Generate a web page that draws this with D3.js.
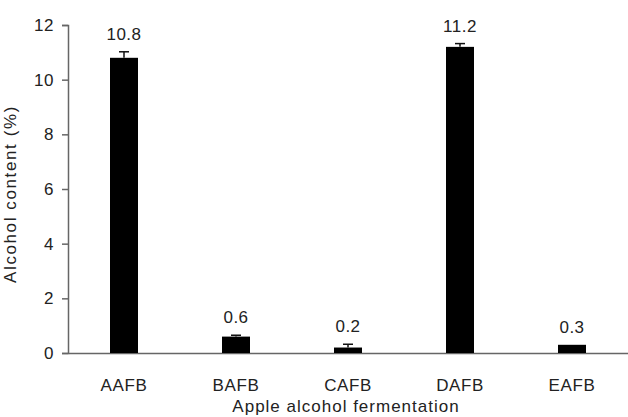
<!DOCTYPE html>
<html>
<head>
<meta charset="utf-8">
<script src="https://cdn.jsdelivr.net/npm/d3@7"></script>
<style>
  body { margin: 0; background: #fff; }
  text { font-family: "Liberation Sans", Arial, sans-serif; fill: #222; }
</style>
</head>
<body>
<svg id="chart" width="628" height="417"></svg>
<script>
// Données
const categories = ["AAFB", "BAFB", "CAFB", "DAFB", "EAFB"];
const values = [10.8, 0.6, 0.2, 11.2, 0.3];
const errors = [0.22, 0.05, 0.12, 0.12, 0];
const yTicks = [0, 2, 4, 6, 8, 10, 12];

const width = 628;
const height = 417;
const margin = {top: 25, right: 0, bottom: 64, left: 68};

const svg = d3.select("#chart");

const x = d3.scaleBand()
  .domain(categories)
  .range([margin.left, width - margin.right])
  .paddingInner(0.75)
  .paddingOuter(0.375);

const y = d3.scaleLinear()
  .domain([0, 12])
  .range([height - margin.bottom, margin.top]);

// Axe Y
const yAxis = svg.append("g")
  .attr("transform", "translate(" + margin.left + ",0)")
  .call(d3.axisLeft(y).tickValues(yTicks).tickSize(6).tickPadding(8));
yAxis.select(".domain").attr("stroke", "#666").attr("stroke-width", 1.5);
yAxis.selectAll(".tick line").attr("stroke", "#666").attr("stroke-width", 1.5);
yAxis.selectAll(".tick text")
  .attr("font-size", "17px")
  .attr("letter-spacing", "0.5px")
  .style("fill", "#222");

// Axe X (sans graduations)
const xAxis = svg.append("g")
  .attr("transform", "translate(0," + y(0) + ")")
  .call(d3.axisBottom(x).tickSize(0).tickPadding(26));
xAxis.select(".domain").attr("stroke", "#666").attr("stroke-width", 1.5);
xAxis.selectAll(".tick text")
  .attr("font-size", "17px")
  .attr("letter-spacing", "0.6px")
  .style("fill", "#222");

// Barres
const data = categories.map((c, i) => ({cat: c, value: values[i], err: errors[i]}));

svg.append("g").selectAll("rect")
  .data(data)
  .enter()
  .append("rect")
  .attr("x", d => x(d.cat))
  .attr("y", d => y(d.value))
  .attr("width", x.bandwidth())
  .attr("height", d => y(0) - y(d.value))
  .attr("fill", "#000");

// Barres d'erreur
const errG = svg.append("g").attr("stroke", "#111").attr("stroke-width", 1.5);
data.filter(d => d.err > 0).forEach(d => {
  const cx = x(d.cat) + x.bandwidth() / 2;
  errG.append("line")
    .attr("x1", cx).attr("x2", cx)
    .attr("y1", y(d.value)).attr("y2", y(d.value + d.err));
  errG.append("line")
    .attr("x1", cx - 5).attr("x2", cx + 5)
    .attr("y1", y(d.value + d.err)).attr("y2", y(d.value + d.err));
});

// Étiquettes de valeur
svg.append("g").selectAll("text")
  .data(data)
  .enter()
  .append("text")
  .attr("x", d => x(d.cat) + x.bandwidth() / 2)
  .attr("y", d => y(d.value + d.err) - 12)
  .attr("text-anchor", "middle")
  .attr("font-size", "17px")
  .attr("letter-spacing", "0.5px")
  .text(d => d.value.toFixed(1));

// Titres des axes
svg.append("text")
  .attr("x", 346)
  .attr("y", 412)
  .attr("text-anchor", "middle")
  .attr("font-size", "17px")
  .attr("letter-spacing", "1px")
  .text("Apple alcohol fermentation");

svg.append("text")
  .attr("transform", "translate(16,194) rotate(-90)")
  .attr("text-anchor", "middle")
  .attr("font-size", "17px")
  .attr("letter-spacing", "1.6px")
  .text("Alcohol content (%)");
</script>
</body>
</html>
